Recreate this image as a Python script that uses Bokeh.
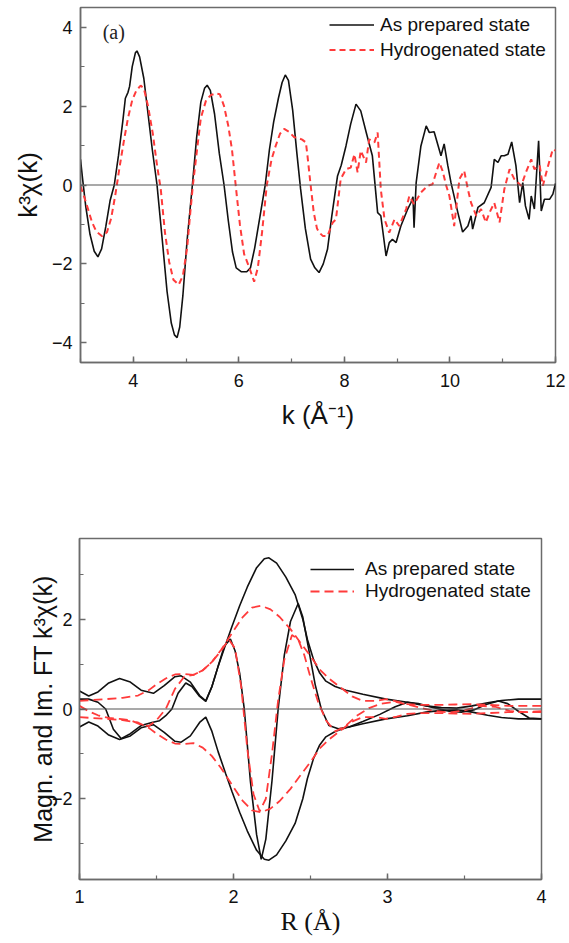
from bokeh.plotting import figure
from bokeh.models import Span, Label, Legend, LegendItem, SingleIntervalTicker, Range1d, Spacer
from bokeh.layouts import column, row
from bokeh.embed import file_html
from bokeh.resources import INLINE

# ---------------- panel (a): k^3 chi(k) ----------------
k_prep = [3.00, 3.04, 3.10, 3.18, 3.26, 3.33, 3.40, 3.48, 3.56, 3.64, 3.72, 3.80, 3.85, 3.90, 3.93,
          3.98, 4.04, 4.07, 4.12, 4.20, 4.28, 4.36, 4.45, 4.55, 4.64, 4.72, 4.78, 4.83, 4.88, 4.94,
          5.02, 5.12, 5.20, 5.28, 5.35, 5.40, 5.46, 5.54, 5.63, 5.72, 5.80, 5.88, 5.95, 6.05, 6.15,
          6.22, 6.30, 6.40, 6.50, 6.58, 6.66, 6.75, 6.82, 6.88, 6.94, 7.02, 7.10, 7.17, 7.26, 7.36,
          7.44, 7.52, 7.60, 7.68, 7.76, 7.87, 7.94, 8.03, 8.12, 8.22, 8.31, 8.42, 8.53, 8.63, 8.69,
          8.79, 8.85, 8.91, 8.98, 9.07, 9.20, 9.26, 9.30, 9.32, 9.36, 9.45, 9.55, 9.61, 9.70, 9.83,
          9.89, 9.96, 10.02, 10.15, 10.24, 10.34, 10.40, 10.43, 10.53, 10.65, 10.78, 10.84, 10.91,
          10.97, 11.03, 11.10, 11.17, 11.25, 11.32, 11.38, 11.43, 11.50, 11.54, 11.60, 11.68, 11.73,
          11.79, 11.89, 11.95, 12.00]
chi_prep = [0.65, 0.15, -0.55, -1.25, -1.68, -1.82, -1.62, -1.05, -0.40, 0.00, 0.75, 1.60, 2.20, 2.35, 2.50,
            3.00, 3.35, 3.40, 3.25, 2.70, 1.80, 0.90, 0.00, -1.40, -2.70, -3.50, -3.80, -3.87, -3.60, -2.80,
            -1.40, 0.00, 1.20, 2.10, 2.45, 2.53, 2.40, 1.80, 0.80, 0.00, -0.90, -1.70, -2.10, -2.20, -2.20,
            -2.10, -1.60, -0.80, 0.00, 0.90, 1.60, 2.20, 2.60, 2.79, 2.65, 1.90, 0.80, -0.10, -1.10, -1.88,
            -2.10, -2.22, -2.00, -1.63, -0.80, 0.23, 0.50, 0.99, 1.55, 2.05, 1.88, 1.30, 0.74, -0.70, -0.78,
            -1.80, -1.46, -1.38, -1.46, -1.04, -0.61, -0.45, -0.30, -1.08, 0.06, 0.99, 1.50, 1.33, 1.35, 0.74,
            1.04, 0.49, 0.06, -0.70, -1.19, -1.04, -0.78, -1.12, -0.57, -0.45, -0.06, 0.65, 0.57,
            0.74, 0.74, 0.78, 1.09, 0.49, -0.45, 0.06, -0.53, -0.87, -0.28, -0.61, 1.12, -0.66,
            -0.36, -0.36, -0.23, 0.04]

k_hydro = [3.00, 3.07, 3.14, 3.22, 3.30, 3.41, 3.50, 3.58, 3.66, 3.74, 3.82, 3.90, 3.98, 4.06, 4.14,
           4.20, 4.28, 4.37, 4.45, 4.52, 4.60, 4.68, 4.76, 4.86, 4.94, 5.02, 5.08, 5.13, 5.20, 5.28,
           5.38, 5.47, 5.56, 5.64, 5.72, 5.80, 5.87, 5.94, 6.02, 6.10, 6.20, 6.29, 6.36, 6.44, 6.53,
           6.62, 6.70, 6.78, 6.86, 6.95, 7.05, 7.11, 7.20, 7.27, 7.30, 7.36, 7.42, 7.48, 7.52, 7.59,
           7.68, 7.78, 7.84, 7.93, 8.03, 8.12, 8.19, 8.25, 8.31, 8.41, 8.47, 8.57, 8.63, 8.69, 8.76,
           8.85, 8.95, 9.04, 9.17, 9.23, 9.32, 9.45, 9.58, 9.67, 9.74, 9.80, 9.86, 9.93, 9.99, 10.08,
           10.18, 10.27, 10.34, 10.40, 10.50, 10.59, 10.68, 10.75, 10.84, 10.94, 11.03, 11.13, 11.22,
           11.35, 11.44, 11.54, 11.60, 11.70, 11.76, 11.86, 11.95, 12.00]
chi_hydro = [-0.03, -0.30, -0.60, -0.95, -1.18, -1.30, -1.20, -0.85, -0.25, 0.45, 1.10, 1.70, 2.15, 2.40, 2.52,
             2.45, 2.00, 1.30, 0.50, -0.10, -1.20, -1.95, -2.40, -2.53, -2.30, -1.60, -0.70, 0.00, 0.80, 1.70,
             2.15, 2.28, 2.32, 2.30, 2.00, 1.50, 0.90, 0.00, -1.00, -1.75, -2.10, -2.45, -2.10, -1.20, 0.00,
             0.65, 1.00, 1.30, 1.42, 1.35, 1.21, 1.20, 1.15, 1.08, 0.75, 0.00, -0.70, -1.10, -1.20, -1.29,
             -1.29, -0.95, -0.87, 0.15, 0.40, 0.44, 0.78, 0.32, 0.87, 0.57, 1.16, 1.08, 1.33, -0.11, -0.87,
             -1.21, -0.87, -1.04, -0.61, -0.28, -0.49, -0.19, -0.02, 0.02, 0.32, 0.57, 0.36, -0.02, -0.28, -1.04,
             0.15, 0.36, -0.11, -0.45, -0.78, -0.61, -0.95, -0.70, -0.45, -0.95, -0.11, 0.40, 0.15,
             -0.02, 0.32, 0.65, 0.40, 0.49, -0.02, 0.49, 0.91, 0.87]

# ---------------- panel (b): FT magnitude and imaginary part ----------------
r_mag_prep = [1.00, 1.06, 1.12, 1.19, 1.26, 1.33, 1.40, 1.48, 1.55, 1.62, 1.66, 1.72, 1.78, 1.82, 1.86,
              1.90, 1.95, 1.99, 2.04, 2.09, 2.15, 2.20, 2.23, 2.28, 2.34, 2.40, 2.45, 2.48, 2.52, 2.56,
              2.60, 2.66, 2.73, 2.84, 2.99, 3.13, 3.25, 3.35, 3.45, 3.55, 3.65, 3.74, 3.85, 4.00]
mag_prep = [0.40, 0.29, 0.38, 0.58, 0.68, 0.60, 0.42, 0.35, 0.52, 0.72, 0.74, 0.60, 0.30, 0.18, 0.50,
            0.95, 1.45, 1.84, 2.30, 2.72, 3.15, 3.35, 3.37, 3.25, 2.94, 2.55, 2.00, 1.55, 1.10, 0.80,
            0.62, 0.50, 0.42, 0.33, 0.22, 0.15, 0.07, 0.03, 0.02, 0.07, 0.14, 0.19, 0.22, 0.22]

r_im_prep = [1.00, 1.06, 1.12, 1.17, 1.22, 1.27, 1.33, 1.40, 1.47, 1.52, 1.56, 1.60, 1.64, 1.69, 1.73,
             1.78, 1.82, 1.86, 1.90, 1.94, 1.98, 2.01, 2.04, 2.07, 2.11, 2.15, 2.18, 2.21, 2.25, 2.29,
             2.33, 2.37, 2.42, 2.45, 2.49, 2.53, 2.57, 2.62, 2.68, 2.75, 2.84, 2.95, 3.05, 3.13, 3.20,
             3.30, 3.40, 3.48, 3.56, 3.64, 3.72, 3.78, 3.85, 3.92, 4.00]
im_prep = [0.22, 0.22, 0.15, 0.00, -0.45, -0.66, -0.55, -0.37, -0.30, -0.26, -0.15, 0.00, 0.35, 0.58, 0.50,
           0.28, 0.17, 0.50, 0.95, 1.40, 1.56, 1.30, 0.80, 0.00, -1.62, -2.80, -3.35, -2.90, -1.60, 0.00,
           1.20, 1.95, 2.35, 2.05, 1.30, 0.55, 0.00, -0.37, -0.44, -0.40, -0.28, -0.12, 0.05, 0.15, 0.12,
           0.03, -0.05, -0.07, -0.02, 0.10, 0.18, 0.12, -0.05, -0.20, -0.22]

r_mag_hydro = [1.00, 1.08, 1.17, 1.28, 1.38, 1.45, 1.50, 1.56, 1.62, 1.68, 1.74, 1.80, 1.86, 1.92, 1.99,
               2.06, 2.12, 2.18, 2.24, 2.30, 2.37, 2.43, 2.50, 2.56, 2.62, 2.68, 2.77, 2.84, 2.92, 2.99,
               3.06, 3.13, 3.22, 3.32, 3.44, 3.55, 3.66, 3.78, 3.90, 4.00]
mag_hydro = [0.18, 0.20, 0.22, 0.25, 0.30, 0.42, 0.55, 0.68, 0.77, 0.78, 0.76, 0.86, 1.05, 1.32, 1.69,
             2.05, 2.26, 2.30, 2.22, 2.05, 1.78, 1.50, 1.18, 0.88, 0.68, 0.52, 0.28, 0.18, 0.18, 0.22,
             0.17, 0.11, 0.09, 0.09, 0.10, 0.11, 0.09, 0.07, 0.07, 0.07]

r_im_hydro = [1.00, 1.06, 1.12, 1.19, 1.26, 1.33, 1.40, 1.45, 1.50, 1.56, 1.62, 1.68, 1.74, 1.80, 1.86,
              1.92, 1.97, 2.01, 2.05, 2.09, 2.13, 2.17, 2.21, 2.25, 2.29, 2.33, 2.38, 2.42, 2.46, 2.50,
              2.55, 2.60, 2.66, 2.72, 2.80, 2.88, 2.96, 3.05, 3.13, 3.22, 3.30, 3.40, 3.50, 3.60, 3.70,
              3.80, 3.90, 4.00]
im_hydro = [0.07, -0.05, -0.14, -0.20, -0.22, -0.25, -0.35, -0.38, -0.25, 0.00, 0.45, 0.72, 0.76, 0.86, 1.05,
            1.30, 1.55, 1.35, 0.50, -0.90, -1.90, -2.28, -2.00, -1.00, 0.20, 1.10, 1.65, 1.55, 1.20, 0.70,
            0.15, -0.25, -0.50, -0.40, -0.15, 0.02, 0.12, 0.16, 0.10, 0.02, -0.04, -0.08, -0.03, 0.07, 0.05,
            -0.05, -0.07, -0.05]

labels = ["As prepared state", "Hydrogenated state"]

BLACK = "#111111"
RED = "#ff3b3b"
AX = "#6b6b6b"
SANS = "Liberation Sans"
SERIF = "Liberation Serif"


def style_axes(p, xint, yint, tick_size, x_title, y_title, x_font, x_title_size, y_title_size,
               x_std, y_std, x_lab_std, y_lab_std):
    p.outline_line_color = AX
    p.outline_line_width = 1.5
    p.xgrid.visible = False
    p.ygrid.visible = False
    p.xaxis.ticker = SingleIntervalTicker(interval=xint, num_minor_ticks=2)
    p.yaxis.ticker = SingleIntervalTicker(interval=yint, num_minor_ticks=2)
    for ax in (p.xaxis[0], p.yaxis[0]):
        ax.axis_line_color = AX
        ax.axis_line_width = 1.5
        ax.major_tick_line_color = AX
        ax.minor_tick_line_color = AX
        ax.major_tick_line_width = 1.5
        ax.minor_tick_line_width = 1.2
        ax.major_tick_in = 6
        ax.major_tick_out = 0
        ax.minor_tick_in = 4
        ax.minor_tick_out = 0
        ax.major_label_text_font = SANS
        ax.major_label_text_font_size = tick_size
        ax.major_label_text_color = "#111111"
        ax.axis_label_text_color = "#111111"
        ax.axis_label_text_font_style = "normal"
    p.xaxis.axis_label = x_title
    p.xaxis.axis_label_text_font = x_font
    p.xaxis.axis_label_text_font_size = x_title_size
    p.xaxis.axis_label_standoff = x_std
    p.xaxis.major_label_standoff = x_lab_std
    p.yaxis.axis_label = y_title
    p.yaxis.axis_label_text_font = SANS
    p.yaxis.axis_label_text_font_size = y_title_size
    p.yaxis.axis_label_standoff = y_std
    p.yaxis.major_label_standoff = y_lab_std
    p.add_layout(Span(location=0, dimension="width", line_color="#555555", line_width=1.2))


# ---------- top figure ----------
p1 = figure(width=561, height=432, x_range=Range1d(3, 12), y_range=Range1d(-4.5, 4.5),
            output_backend="svg", toolbar_location=None, tools="",
            min_border_left=72, min_border_right=14, min_border_top=7, min_border_bottom=70)
style_axes(p1, 2, 2, "18px", "k (Å⁻¹)", "k³χ(k)", SANS, "26px", "26px", 10, 6, 11, 8)

r1a = p1.line(k_prep, chi_prep, line_color=BLACK, line_width=1.6)
r1b = p1.line(k_hydro, chi_hydro, line_color=RED, line_width=2, line_dash="6 4")
p1.add_layout(Label(x=3.42, y=3.88, text="(a)", text_font=SERIF, text_font_size="20px",
                    text_baseline="middle", text_color="#222222"))
leg1 = Legend(items=[LegendItem(label=labels[0], renderers=[r1a]),
                     LegendItem(label=labels[1], renderers=[r1b])],
              location=(249, 300), padding=0, margin=0, spacing=0,
              glyph_width=45, glyph_height=25, label_height=25, label_standoff=6,
              label_text_font=SANS, label_text_font_size="19px", label_text_color="#111111",
              border_line_color=None, background_fill_alpha=0)
p1.add_layout(leg1)

# ---------- bottom figure ----------
p2 = figure(width=536, height=510, x_range=Range1d(1, 4), y_range=Range1d(-3.8, 3.8),
            output_backend="svg", toolbar_location=None, tools="",
            min_border_left=54, min_border_right=20, min_border_top=106, min_border_bottom=63)
style_axes(p2, 1, 2, "18px", "R (Å)", "Magn. and Im. FT k³χ(k)", SERIF, "26px", "25px", 1, -8, 10, 7)

neg_mag_prep = [-v for v in mag_prep]
neg_mag_hydro = [-v for v in mag_hydro]

r2a = p2.line(r_mag_prep, mag_prep, line_color=BLACK, line_width=1.6)
p2.line(r_mag_prep, neg_mag_prep, line_color=BLACK, line_width=1.6)
p2.line(r_im_prep, im_prep, line_color=BLACK, line_width=1.6)
r2b = p2.line(r_mag_hydro, mag_hydro, line_color=RED, line_width=1.8, line_dash="9 5")
p2.line(r_mag_hydro, neg_mag_hydro, line_color=RED, line_width=1.8, line_dash="9 5")
p2.line(r_im_hydro, im_hydro, line_color=RED, line_width=1.8, line_dash="9 5")

leg2 = Legend(items=[LegendItem(label=labels[0], renderers=[r2a]),
                     LegendItem(label=labels[1], renderers=[r2b])],
              location=(231, 277), padding=0, margin=0, spacing=0,
              glyph_width=44, glyph_height=22, label_height=22, label_standoff=11,
              label_text_font=SANS, label_text_font_size="19px", label_text_color="#111111",
              border_line_color=None, background_fill_alpha=0)
p2.add_layout(leg2)

layout = column(row(Spacer(width=8, height=10), p1), row(Spacer(width=25, height=10), p2), spacing=0)
open("out.html", "w").write(file_html(layout, INLINE))
